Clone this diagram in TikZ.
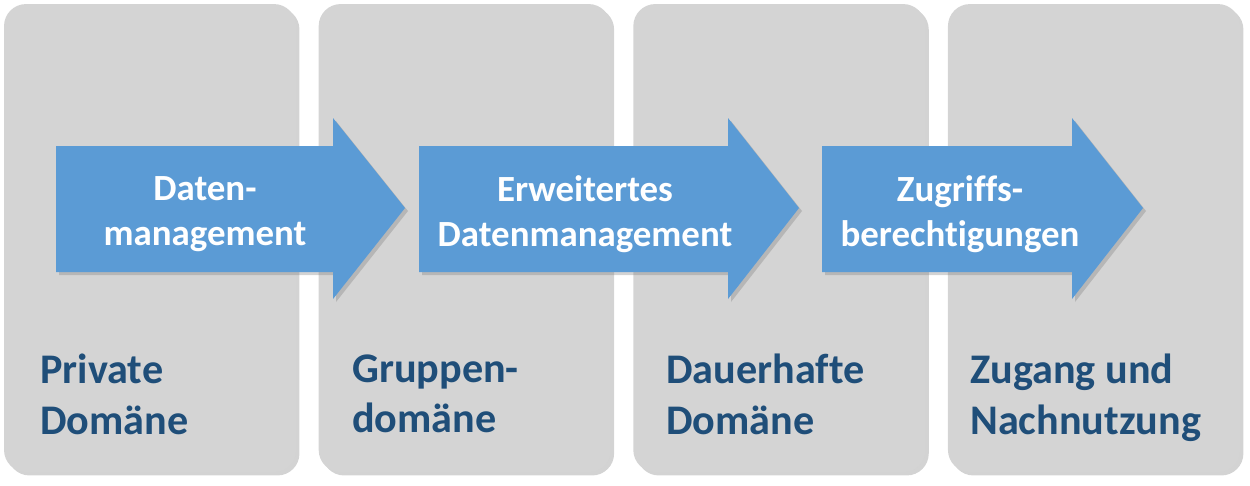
\documentclass[tikz,border=0pt]{standalone}
\usepackage{fontspec}
\setmainfont{Carlito}[Ligatures={NoCommon}]
\usetikzlibrary{positioning,shadows}

\definecolor{boxgray}{RGB}{212,212,212}
\definecolor{arrowblue}{RGB}{91,155,213}
\definecolor{labelblue}{RGB}{31,78,121}

\begin{document}
\begin{tikzpicture}[
    x=0.02cm, y=-0.02cm,
    node distance=0.44cm,
    % Styles
    domainbox/.style={
        rectangle,
        fill=boxgray,
        rounded corners=0.44cm,
        minimum width=5.84cm,
        minimum height=9.36cm,
        drop shadow={shadow xshift=0.07cm, shadow yshift=-0.07cm, opacity=0.35}
    },
    domainlabel/.style={
        anchor=north west,
        inner sep=0pt,
        align=left,
        text=labelblue,
        font=\fontsize{24}{28.5}\selectfont\bfseries
    },
    flowarrow/.style={
        fill=arrowblue,
        drop shadow={shadow xshift=0.06cm, shadow yshift=-0.06cm, opacity=0.35}
    },
    arrowlabel/.style={
        inner sep=0pt,
        align=center,
        text=white,
        font=\fontsize{21}{25.6}\selectfont\bfseries
    }
]
\useasboundingbox (0,0) rectangle (1250,485);

% --- Domains ---
\node[domainbox] (Private) at (150,238) {};
\node[domainbox, right=of Private] (Gruppe) {};
\node[domainbox, right=of Gruppe] (Dauer) {};
\node[domainbox, right=of Dauer] (Zugang) {};

\node[domainlabel] (PrivateText) at (40,354) {Private\\Domäne};
\node[domainlabel] (GruppeText) at (352,354) {Gruppen-\\domäne};
\node[domainlabel] (DauerText) at (666,354) {Dauerhafte\\Domäne};
\node[domainlabel] (ZugangText) at (970,354) {Zugang und\\Nachnutzung};

% --- Arrows ---
\foreach \xs/\xh/\xt in {56/333/405, 419/728/799, 822/1072/1143}
    \fill[flowarrow] (\xs,146) -- (\xh,146) -- (\xh,118) -- (\xt,208)
        -- (\xh,299) -- (\xh,272) -- (\xs,272) -- cycle;

\node[arrowlabel] (DatenMgmt) at (205,214) {Daten-\\management};
\node[arrowlabel] (ErwMgmt) at (585,214) {Erweitertes\\Datenmanagement};
\node[arrowlabel] (Zugriff) at (960,214) {Zugriffs-\\berechtigungen};

\end{tikzpicture}
\end{document}
